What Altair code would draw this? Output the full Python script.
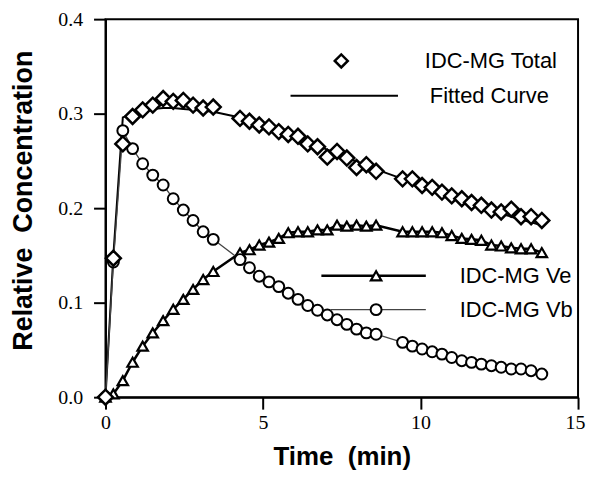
import altair as alt
import pandas as pd

# ---- data ----
times = [0, 0.25, 0.55, 0.86, 1.18, 1.5, 1.83, 2.15, 2.47, 2.78, 3.1, 3.42,
         4.27, 4.57, 4.88, 5.19, 5.5, 5.8, 6.11, 6.42, 6.73, 7.04, 7.35, 7.66,
         7.97, 8.28, 8.59, 9.43, 9.74, 10.05, 10.37, 10.68, 10.99, 11.31, 11.62,
         11.93, 12.25, 12.56, 12.88, 13.19, 13.51, 13.85]

total = [0.0, 0.147, 0.268, 0.297, 0.304, 0.309, 0.316, 0.313, 0.314, 0.309, 0.306, 0.307,
         0.295, 0.292, 0.288, 0.286, 0.281, 0.278, 0.276, 0.268, 0.265, 0.254, 0.260, 0.253,
         0.243, 0.246, 0.239, 0.231, 0.231, 0.224, 0.222, 0.217, 0.213, 0.210, 0.206,
         0.203, 0.198, 0.196, 0.199, 0.191, 0.191, 0.187]

fitted = [0.0, 0.150, 0.296, 0.300, 0.303, 0.305, 0.306, 0.306, 0.305, 0.304, 0.303, 0.302,
          0.296, 0.293, 0.290, 0.286, 0.282, 0.278, 0.274, 0.270, 0.266, 0.262, 0.258, 0.254,
          0.249, 0.245, 0.241, 0.231, 0.227, 0.223, 0.219, 0.215, 0.211, 0.207, 0.204,
          0.200, 0.197, 0.194, 0.191, 0.188, 0.185, 0.182]

ve = [0.0, 0.0035, 0.0175, 0.037, 0.054, 0.068, 0.081, 0.093, 0.1035, 0.114, 0.1245, 0.133,
      0.1526, 0.156, 0.161, 0.164, 0.168, 0.174, 0.175, 0.175, 0.177, 0.177, 0.182, 0.181,
      0.182, 0.181, 0.182, 0.175, 0.175, 0.175, 0.175, 0.174, 0.171, 0.168, 0.167,
      0.166, 0.161, 0.160, 0.158, 0.157, 0.157, 0.153]

vb = [0.0, 0.143, 0.282, 0.263, 0.247, 0.235, 0.2245, 0.21, 0.198, 0.187, 0.175, 0.167,
      0.1456, 0.137, 0.128, 0.122, 0.117, 0.110, 0.1035, 0.097, 0.092, 0.087, 0.082, 0.077,
      0.072, 0.068, 0.0666, 0.058, 0.054, 0.051, 0.048, 0.0456, 0.042, 0.0386, 0.0368,
      0.035, 0.0333, 0.0316, 0.0298, 0.0298, 0.028, 0.0245]

x_ticks = [0, 5, 10, 15]
y_ticks = [0.0, 0.1, 0.2, 0.3, 0.4]

df = pd.DataFrame({"t": times, "total": total, "fit": fitted, "ve": ve, "vb": vb})

xs = alt.Scale(domain=[0, 15], nice=False)
ys = alt.Scale(domain=[0, 0.4], nice=False)

X = alt.X("t:Q", scale=xs,
          axis=alt.Axis(values=x_ticks, format="d", title="Time\u00a0\u00a0(min)",
                        titleFont="Liberation Sans", titleFontSize=26, titleFontWeight="bold",
                        titleBaseline="alphabetic", titleY=68, titleColor="black",
                        labelOffset={"condition": {"test": "datum.value == 15", "value": -3},
                                     "value": 0}))


def Y(field, show=False):
    if show:
        return alt.Y(field, type="quantitative", scale=ys,
                     axis=alt.Axis(values=y_ticks, format=".1f",
                                   title="Relative\u00a0\u00a0Concentration",
                                   titleFont="Liberation Sans", titleFontSize=27,
                                   titleFontWeight="bold", titleBaseline="alphabetic",
                                   titleX=-74, titleY=182, titleAngle=-90, titleColor="black"))
    return alt.Y(field, type="quantitative", scale=ys)


base = alt.Chart(df)

fit_line = base.mark_line(color="black", strokeWidth=2).encode(x=X, y=Y("fit", True))
ve_line = base.mark_line(color="black", strokeWidth=2.5).encode(x=X, y=Y("ve"))
vb_line = base.mark_line(color="#444444", strokeWidth=1.3).encode(x=X, y=Y("vb"))

tot_pts = base.mark_point(shape="diamond", size=225, filled=False, fill="white", fillOpacity=1,
                          stroke="black", strokeWidth=2.5, opacity=1).encode(x=X, y=Y("total"))
ve_pts = base.mark_point(shape="triangle-up", size=110, fill="white", fillOpacity=1,
                         stroke="black", strokeWidth=2.2, opacity=1).encode(x=X, y=Y("ve"))
vb_pts = base.mark_point(shape="circle", size=120, fill="white", fillOpacity=1,
                         stroke="black", strokeWidth=2, opacity=1).encode(x=X, y=Y("vb"))

# ---- legend (manual) ----
leg = alt.Chart(pd.DataFrame({"k": [0]}))
txt = dict(font="Liberation Sans", fontSize=22, color="black", align="left", baseline="middle")

leg_items = [
    leg.mark_point(shape="diamond", size=170, fill="white", fillOpacity=1, stroke="black",
                   strokeWidth=2.5, opacity=1).encode(x=alt.value(237), y=alt.value(42)),
    leg.mark_text(**txt).encode(x=alt.value(321), y=alt.value(42), text=alt.value("IDC-MG Total")),
    leg.mark_rule(color="black", strokeWidth=2).encode(x=alt.value(186), x2=alt.value(294), y=alt.value(77)),
    leg.mark_text(**txt).encode(x=alt.value(326), y=alt.value(77), text=alt.value("Fitted Curve")),
    leg.mark_rule(color="black", strokeWidth=2.5).encode(x=alt.value(217), x2=alt.value(322), y=alt.value(258)),
    leg.mark_point(shape="triangle-up", size=110, fill="white", fillOpacity=1, stroke="black",
                   strokeWidth=2.2, opacity=1).encode(x=alt.value(272), y=alt.value(258)),
    leg.mark_text(**txt).encode(x=alt.value(356), y=alt.value(258), text=alt.value("IDC-MG Ve")),
    leg.mark_rule(color="#444444", strokeWidth=1.3).encode(x=alt.value(226), x2=alt.value(322), y=alt.value(292)),
    leg.mark_point(shape="circle", size=120, fill="white", fillOpacity=1, stroke="black",
                   strokeWidth=2, opacity=1).encode(x=alt.value(272), y=alt.value(292)),
    leg.mark_text(**txt).encode(x=alt.value(356), y=alt.value(292), text=alt.value("IDC-MG Vb")),
]

chart = alt.layer(fit_line, ve_line, vb_line, ve_pts, vb_pts, tot_pts, *leg_items).properties(
    width=475, height=380,
    autosize=alt.AutoSizeParams(type="none"),
    padding={"left": 98, "top": 10, "right": 9, "bottom": 73},
    background="white",
).configure_view(stroke="black", strokeWidth=2).configure_axis(
    grid=False, domainColor="black", domainWidth=2, tickColor="black", tickWidth=2,
    tickSize=12, labelFont="Liberation Serif", labelFontSize=20, labelColor="black",
    labelFlush=False, labelPadding=3,
).configure_axisY(labelPadding=11)

chart.save("out.html", embed_options={"renderer": "svg", "actions": False})
